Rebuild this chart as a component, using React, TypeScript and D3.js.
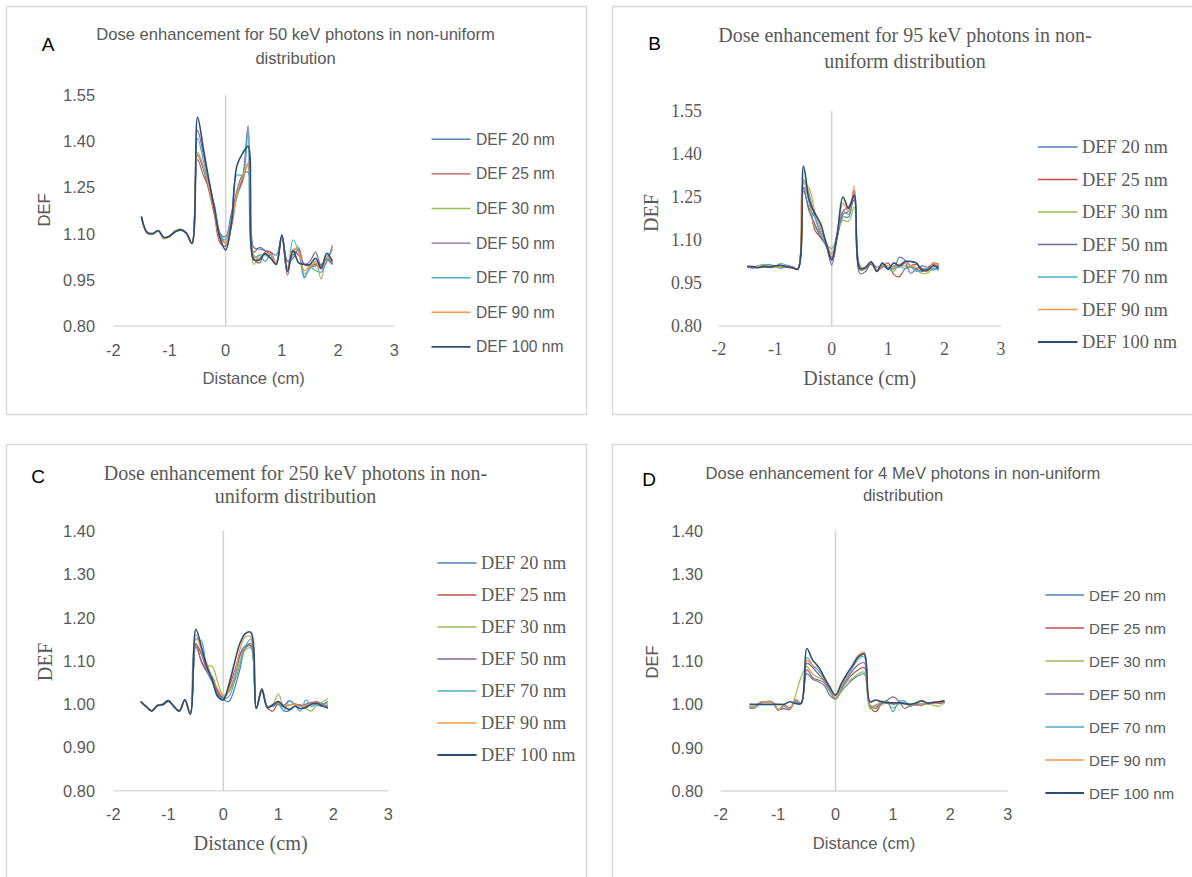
import React, { useEffect, useRef } from 'react';
import * as d3 from 'd3';

const WIDTH = 1192;
const HEIGHT = 877;

// Distance (cm) sample points shared by every panel
const DISTANCE = [
  -1.5, -1.4, -1.3, -1.2, -1.1, -1.0, -0.9, -0.8, -0.7, -0.6, -0.5, -0.4, -0.3, -0.2, -0.1, 0.0, 0.1,
  0.2, 0.3, 0.4, 0.5, 0.6, 0.7, 0.8, 0.9, 1.0, 1.1, 1.2, 1.3, 1.4, 1.5, 1.6, 1.7, 1.8, 1.9,
];

const SERIES_NAMES = ['DEF 20 nm', 'DEF 25 nm', 'DEF 30 nm', 'DEF 50 nm', 'DEF 70 nm', 'DEF 90 nm', 'DEF 100 nm'];

const COLORS = [
  '#4f81bd', // 20 nm
  '#c0504d', // 25 nm
  '#9bbb59', // 30 nm
  '#8064a2', // 50 nm
  '#4bacc6', // 70 nm
  '#f79646', // 90 nm
  '#2c4d75', // 100 nm
];

const X_TICKS = [-2, -1, 0, 1, 2, 3];
const Y_TICKS_AB = [0.8, 0.95, 1.1, 1.25, 1.4, 1.55];
const Y_TICKS_CD = [0.8, 0.9, 1.0, 1.1, 1.2, 1.3, 1.4];

// A - 50 keV
const A_20 = [1.155, 1.102, 1.098, 1.108, 1.085, 1.090, 1.108, 1.112, 1.100, 1.070, 1.340, 1.290, 1.250, 1.190, 1.100, 1.070, 1.140, 1.240, 1.290, 1.300, 1.055, 1.050, 1.045, 1.040, 1.030, 1.090, 1.010, 1.030, 1.050, 0.960, 0.990, 0.995, 1.000, 1.015, 1.000];
const A_25 = [1.155, 1.103, 1.100, 1.110, 1.086, 1.090, 1.106, 1.112, 1.100, 1.068, 1.355, 1.310, 1.240, 1.160, 1.070, 1.060, 1.120, 1.220, 1.270, 1.330, 1.020, 1.005, 1.040, 1.040, 1.000, 1.090, 0.965, 1.040, 1.030, 1.000, 0.995, 1.000, 0.985, 1.010, 1.062];
const A_30 = [1.155, 1.100, 1.097, 1.108, 1.083, 1.092, 1.110, 1.115, 1.102, 1.067, 1.365, 1.320, 1.260, 1.180, 1.090, 1.070, 1.140, 1.220, 1.280, 1.320, 1.000, 1.030, 1.030, 1.020, 1.005, 1.095, 0.980, 1.040, 1.055, 0.970, 0.985, 1.010, 0.952, 1.030, 1.005];
const A_50 = [1.155, 1.104, 1.099, 1.109, 1.087, 1.091, 1.107, 1.114, 1.103, 1.068, 1.435, 1.360, 1.270, 1.190, 1.100, 1.090, 1.165, 1.230, 1.280, 1.450, 1.040, 1.055, 1.045, 1.030, 1.005, 1.090, 1.010, 1.020, 1.050, 1.000, 1.010, 1.040, 0.995, 1.020, 1.000];
const A_70 = [1.155, 1.102, 1.098, 1.109, 1.086, 1.091, 1.108, 1.112, 1.101, 1.069, 1.410, 1.340, 1.260, 1.190, 1.095, 1.080, 1.150, 1.290, 1.290, 1.436, 1.020, 1.030, 1.010, 1.030, 1.000, 1.095, 0.990, 1.080, 1.040, 0.955, 0.990, 0.980, 0.975, 1.010, 1.050];
const A_90 = [1.155, 1.103, 1.099, 1.110, 1.085, 1.091, 1.107, 1.113, 1.101, 1.068, 1.360, 1.320, 1.250, 1.170, 1.085, 1.070, 1.130, 1.230, 1.285, 1.325, 1.030, 1.020, 1.035, 1.035, 1.005, 1.090, 0.985, 1.050, 1.040, 0.980, 0.995, 1.005, 0.990, 1.025, 1.010];
const A_100 = [1.155, 1.105, 1.100, 1.110, 1.088, 1.092, 1.105, 1.112, 1.102, 1.068, 1.478, 1.380, 1.275, 1.180, 1.085, 1.047, 1.130, 1.320, 1.360, 1.383, 1.015, 1.015, 1.035, 1.020, 1.000, 1.095, 0.978, 1.045, 1.005, 1.000, 1.000, 1.020, 0.988, 1.036, 1.010];

// B - 95 keV
const B_20 = [1.005, 1.003, 1.005, 1.008, 1.010, 1.006, 1.002, 1.008, 1.004, 1.000, 1.270, 1.210, 1.180, 1.120, 1.080, 1.040, 1.110, 1.180, 1.180, 1.270, 1.010, 1.000, 1.020, 0.995, 1.010, 1.005, 1.000, 1.040, 1.030, 1.010, 1.000, 0.990, 1.000, 0.995, 1.010];
const B_25 = [1.006, 1.004, 1.008, 1.005, 1.010, 1.008, 1.006, 1.004, 1.002, 0.999, 1.284, 1.240, 1.135, 1.110, 1.085, 1.035, 1.115, 1.190, 1.200, 1.240, 0.995, 1.000, 1.015, 0.995, 1.005, 1.020, 0.980, 0.972, 1.000, 1.010, 1.015, 1.000, 1.000, 1.020, 1.015];
const B_30 = [1.007, 1.006, 1.010, 1.015, 1.012, 1.008, 1.004, 1.012, 1.006, 0.999, 1.300, 1.230, 1.146, 1.120, 1.085, 1.050, 1.120, 1.170, 1.165, 1.216, 0.995, 1.000, 1.025, 0.990, 1.015, 1.000, 0.990, 1.015, 1.010, 1.005, 0.995, 0.984, 0.985, 1.005, 1.010];
const B_50 = [1.005, 1.003, 1.006, 1.008, 1.004, 1.010, 1.008, 1.005, 1.003, 0.999, 1.280, 1.200, 1.157, 1.110, 1.080, 1.013, 1.110, 1.200, 1.216, 1.250, 0.983, 0.990, 1.020, 1.005, 1.010, 1.000, 1.010, 1.005, 1.020, 0.984, 1.000, 1.010, 1.005, 1.015, 1.005];
const B_70 = [1.005, 1.006, 1.010, 1.012, 1.015, 1.010, 1.018, 1.012, 1.006, 1.000, 1.310, 1.260, 1.180, 1.130, 1.090, 1.070, 1.120, 1.200, 1.190, 1.274, 1.000, 1.005, 1.020, 0.995, 1.015, 1.000, 1.000, 1.010, 1.000, 1.005, 0.990, 0.995, 1.000, 1.000, 0.995];
const B_90 = [1.006, 1.005, 1.007, 1.010, 1.006, 1.005, 1.010, 1.004, 1.006, 0.999, 1.300, 1.280, 1.200, 1.140, 1.095, 1.053, 1.125, 1.228, 1.200, 1.288, 1.005, 1.005, 1.022, 0.995, 1.010, 1.010, 1.005, 1.015, 1.020, 1.010, 1.005, 0.995, 0.990, 1.020, 1.010];
const B_100 = [1.008, 1.007, 1.003, 1.008, 1.005, 1.010, 1.012, 1.006, 1.005, 0.998, 1.358, 1.240, 1.193, 1.158, 1.090, 1.030, 1.125, 1.250, 1.210, 1.257, 1.000, 1.005, 1.024, 0.990, 1.020, 0.998, 1.020, 1.010, 1.025, 1.025, 1.020, 0.995, 0.995, 1.010, 1.000];

// C - 250 keV
const C_20 = [1.006, 0.993, 0.984, 0.996, 0.998, 1.006, 0.994, 0.984, 1.009, 0.978, 1.133, 1.100, 1.075, 1.050, 1.020, 1.010, 1.006, 1.035, 1.080, 1.130, 1.140, 0.992, 1.030, 0.995, 0.995, 1.000, 0.984, 0.985, 0.995, 0.998, 0.996, 1.002, 0.998, 0.995, 0.996];
const C_25 = [1.006, 0.994, 0.985, 0.997, 1.000, 1.009, 0.995, 0.985, 1.010, 0.977, 1.140, 1.098, 1.075, 1.063, 1.030, 1.015, 1.030, 1.060, 1.110, 1.130, 1.135, 0.992, 1.036, 0.992, 0.984, 1.002, 0.995, 0.998, 1.000, 0.996, 1.000, 1.004, 1.005, 1.000, 1.006];
const C_30 = [1.006, 0.994, 0.984, 0.997, 0.999, 1.007, 0.995, 0.984, 1.010, 0.978, 1.135, 1.120, 1.090, 1.087, 1.050, 1.020, 1.028, 1.055, 1.100, 1.125, 1.130, 0.993, 1.030, 0.995, 1.000, 1.023, 0.995, 0.998, 1.000, 0.995, 0.990, 0.984, 0.998, 1.005, 1.013];
const C_50 = [1.006, 0.994, 0.984, 0.996, 0.999, 1.008, 0.995, 0.984, 1.010, 0.978, 1.140, 1.115, 1.080, 1.058, 1.025, 1.015, 1.040, 1.075, 1.115, 1.135, 1.135, 0.990, 1.034, 0.995, 0.998, 1.003, 0.998, 1.008, 1.000, 0.998, 0.996, 1.000, 1.005, 1.000, 0.995];
const C_70 = [1.006, 0.994, 0.985, 0.997, 1.000, 1.007, 0.995, 0.985, 1.010, 0.977, 1.150, 1.146, 1.080, 1.055, 1.020, 1.012, 1.018, 1.050, 1.090, 1.133, 1.150, 0.992, 1.030, 0.995, 0.998, 1.005, 0.985, 1.008, 0.998, 0.984, 1.010, 0.995, 1.000, 1.002, 1.000];
const C_90 = [1.006, 0.994, 0.984, 0.997, 0.999, 1.008, 0.995, 0.984, 1.010, 0.978, 1.160, 1.125, 1.095, 1.060, 1.035, 1.018, 1.035, 1.065, 1.125, 1.156, 1.155, 0.991, 1.034, 0.994, 0.998, 1.003, 0.996, 0.998, 1.000, 0.995, 0.998, 1.000, 1.004, 0.998, 0.990];
const C_100 = [1.006, 0.994, 0.984, 0.997, 0.999, 1.008, 0.995, 0.984, 1.010, 0.977, 1.173, 1.133, 1.087, 1.056, 1.017, 1.010, 1.045, 1.094, 1.140, 1.163, 1.166, 0.990, 1.034, 0.992, 0.998, 1.006, 0.994, 0.988, 0.995, 0.990, 0.992, 1.000, 1.002, 0.996, 0.991];

// D - 4 MeV
const D_20 = [0.991, 0.992, 1.004, 1.006, 1.005, 0.988, 0.998, 0.992, 1.005, 1.002, 1.071, 1.058, 1.052, 1.044, 1.021, 1.012, 1.030, 1.045, 1.058, 1.066, 1.070, 0.998, 0.990, 1.002, 1.005, 1.000, 1.003, 1.002, 0.998, 1.000, 0.998, 1.002, 1.005, 1.003, 1.006];
const D_25 = [0.995, 0.995, 1.005, 1.006, 1.006, 0.987, 0.996, 0.989, 1.008, 1.003, 1.080, 1.062, 1.056, 1.050, 1.030, 1.014, 1.035, 1.055, 1.070, 1.080, 1.085, 0.995, 0.983, 1.000, 1.003, 1.004, 1.002, 1.003, 1.000, 0.998, 1.000, 1.003, 1.004, 1.002, 1.005];
const D_30 = [0.995, 0.996, 1.006, 1.005, 1.005, 0.986, 0.997, 0.989, 1.020, 1.063, 1.087, 1.070, 1.062, 1.055, 1.032, 1.012, 1.033, 1.052, 1.060, 1.071, 1.074, 0.990, 0.992, 1.000, 1.002, 0.992, 1.000, 1.004, 1.000, 0.999, 1.002, 1.000, 0.998, 0.996, 1.004];
const D_50 = [0.994, 0.994, 1.005, 1.006, 1.004, 0.988, 0.990, 0.988, 1.008, 1.002, 1.095, 1.085, 1.070, 1.055, 1.035, 1.013, 1.038, 1.060, 1.078, 1.092, 1.096, 0.998, 0.995, 1.002, 1.010, 1.017, 1.008, 0.991, 0.996, 1.000, 0.998, 1.003, 1.004, 1.006, 1.004];
const D_70 = [0.992, 0.993, 1.005, 1.007, 1.006, 0.987, 0.995, 0.990, 1.006, 1.002, 1.108, 1.090, 1.078, 1.060, 1.036, 1.013, 1.040, 1.062, 1.085, 1.105, 1.110, 0.996, 0.998, 1.004, 1.008, 0.983, 1.006, 1.008, 0.995, 1.002, 1.000, 1.004, 1.003, 1.005, 1.006];
const D_90 = [0.995, 0.994, 1.006, 1.006, 1.005, 0.988, 0.997, 0.990, 1.012, 1.004, 1.102, 1.088, 1.085, 1.060, 1.038, 1.014, 1.042, 1.068, 1.093, 1.114, 1.120, 0.998, 0.995, 1.008, 1.004, 1.002, 1.004, 1.000, 0.998, 1.002, 1.000, 1.003, 1.002, 1.004, 1.006];
const D_100 = [1.000, 1.000, 1.000, 1.000, 1.000, 1.000, 1.000, 1.006, 1.002, 1.002, 1.129, 1.102, 1.087, 1.063, 1.040, 1.021, 1.048, 1.071, 1.090, 1.110, 1.116, 1.006, 1.010, 1.006, 1.004, 1.003, 1.004, 1.002, 1.000, 1.003, 1.008, 1.003, 1.004, 1.006, 1.008];

const SANS = '"Liberation Sans", Arial, sans-serif';
const SERIF = '"Liberation Serif", "Times New Roman", serif';
const TEXT_GREY = '#595959';

interface Fonts {
  family: string;
  size: number;
}

interface PanelSpec {
  letter: string;
  letterPos: [number, number];
  title: string[];
  titleX: number;
  titleY: number[];
  titleFont: Fonts;
  box: [number, number, number, number];
  xRange: [number, number];
  yRange: [number, number]; // [bottom, top] in pixels
  yTicks: number[];
  tickFont: Fonts;
  yTickX: number;
  xTickY: number;
  labelFont: Fonts;
  defPos: [number, number];
  distPos: [number, number];
  legendFont: Fonts;
  legendLine: [number, number];
  legendTextX: number;
  legendY0: number;
  legendStep: number;
  series: number[][];
}

const PANELS: PanelSpec[] = [
  {
    letter: 'A',
    letterPos: [48, 44],
    title: ['Dose enhancement for 50 keV photons in non-uniform', 'distribution'],
    titleX: 295.5,
    titleY: [34, 58],
    titleFont: { family: SANS, size: 16.6 },
    box: [6, 6, 580, 408],
    xRange: [113.3, 394.2],
    yRange: [326, 95],
    yTicks: Y_TICKS_AB,
    tickFont: { family: SANS, size: 16.4 },
    yTickX: 95,
    xTickY: 350,
    labelFont: { family: SANS, size: 16.6 },
    defPos: [44, 210],
    distPos: [253.7, 378],
    legendFont: { family: SANS, size: 15.6 },
    legendLine: [431.5, 470.5],
    legendTextX: 476,
    legendY0: 139.3,
    legendStep: 34.6,
    series: [A_20, A_25, A_30, A_50, A_70, A_90, A_100],
  },
  {
    letter: 'B',
    letterPos: [654.7, 43],
    title: ['Dose enhancement for 95 keV photons in non-', 'uniform distribution'],
    titleX: 905,
    titleY: [35, 61],
    titleFont: { family: SERIF, size: 20 },
    box: [612, 6, 600, 408],
    xRange: [718.9, 1000.9],
    yRange: [326, 111],
    yTicks: Y_TICKS_AB,
    tickFont: { family: SERIF, size: 17.8 },
    yTickX: 702,
    xTickY: 349,
    labelFont: { family: SERIF, size: 20 },
    defPos: [651, 213],
    distPos: [859.7, 378],
    legendFont: { family: SERIF, size: 18.4 },
    legendLine: [1038, 1077.5],
    legendTextX: 1082,
    legendY0: 147,
    legendStep: 32.5,
    series: [B_20, B_25, B_30, B_50, B_70, B_90, B_100],
  },
  {
    letter: 'C',
    letterPos: [38, 476],
    title: ['Dose enhancement for 250 keV photons in non-', 'uniform distribution'],
    titleX: 295.5,
    titleY: [473, 496],
    titleFont: { family: SERIF, size: 20 },
    box: [6, 444, 580, 460],
    xRange: [113.3, 388.4],
    yRange: [790.7, 531],
    yTicks: Y_TICKS_CD,
    tickFont: { family: SANS, size: 16.4 },
    yTickX: 95,
    xTickY: 814,
    labelFont: { family: SERIF, size: 20.3 },
    defPos: [45, 662],
    distPos: [250.7, 843],
    legendFont: { family: SERIF, size: 18.3 },
    legendLine: [437.4, 476.5],
    legendTextX: 481,
    legendY0: 563,
    legendStep: 32,
    series: [C_20, C_25, C_30, C_50, C_70, C_90, C_100],
  },
  {
    letter: 'D',
    letterPos: [649, 479],
    title: ['Dose enhancement for 4 MeV photons in non-uniform', 'distribution'],
    titleX: 903,
    titleY: [473, 495],
    titleFont: { family: SANS, size: 16.6 },
    box: [612, 444, 600, 460],
    xRange: [720.8, 1007.7],
    yRange: [791, 531],
    yTicks: Y_TICKS_CD,
    tickFont: { family: SANS, size: 16.2 },
    yTickX: 703,
    xTickY: 814,
    labelFont: { family: SANS, size: 16.6 },
    defPos: [652, 662],
    distPos: [864, 843],
    legendFont: { family: SANS, size: 15.2 },
    legendLine: [1045.4, 1084],
    legendTextX: 1089,
    legendY0: 595,
    legendStep: 33,
    series: [D_20, D_25, D_30, D_50, D_70, D_90, D_100],
  },
];

const drawPanel = (svg: d3.Selection<SVGSVGElement, unknown, null, undefined>, p: PanelSpec) => {
  const g = svg.append('g');

  // outer frame
  g.append('rect')
    .attr('x', p.box[0] + 0.5)
    .attr('y', p.box[1] + 0.5)
    .attr('width', p.box[2])
    .attr('height', p.box[3])
    .attr('fill', '#fff')
    .attr('stroke', '#d9d9d9')
    .attr('stroke-width', 1.5);

  const xScale = d3.scaleLinear().domain([X_TICKS[0], X_TICKS[X_TICKS.length - 1]]).range(p.xRange);
  const yScale = d3.scaleLinear()
    .domain([p.yTicks[0], p.yTicks[p.yTicks.length - 1]])
    .range(p.yRange);

  // horizontal axis line at the bottom
  g.append('line')
    .attr('x1', p.xRange[0])
    .attr('x2', p.xRange[1])
    .attr('y1', p.yRange[0])
    .attr('y2', p.yRange[0])
    .attr('stroke', '#d9d9d9')
    .attr('stroke-width', 1.5);

  // vertical axis line through zero
  g.append('line')
    .attr('x1', xScale(0))
    .attr('x2', xScale(0))
    .attr('y1', p.yRange[0])
    .attr('y2', p.yRange[1])
    .attr('stroke', '#d0d0d0')
    .attr('stroke-width', 1.5);

  const fmt = d3.format('.2f');

  g.append('g')
    .selectAll('text')
    .data(p.yTicks)
    .enter()
    .append('text')
    .attr('x', p.yTickX)
    .attr('y', d => yScale(d))
    .attr('text-anchor', 'end')
    .attr('dominant-baseline', 'central')
    .attr('font-family', p.tickFont.family)
    .attr('font-size', p.tickFont.size)
    .attr('fill', TEXT_GREY)
    .text(d => fmt(d));

  g.append('g')
    .selectAll('text')
    .data(X_TICKS)
    .enter()
    .append('text')
    .attr('x', d => xScale(d))
    .attr('y', p.xTickY)
    .attr('text-anchor', 'middle')
    .attr('dominant-baseline', 'central')
    .attr('font-family', p.tickFont.family)
    .attr('font-size', p.tickFont.size)
    .attr('fill', TEXT_GREY)
    .text(d => String(d));

  // series lines, smoothed like the spreadsheet
  const line = d3.line<number>()
    .x((_, i) => xScale(DISTANCE[i]))
    .y(d => yScale(d))
    .curve(d3.curveCatmullRom.alpha(0.5));

  p.series.forEach((values, i) => {
    g.append('path')
      .datum(values)
      .attr('fill', 'none')
      .attr('stroke', COLORS[i])
      .attr('stroke-width', i === 6 ? 1.6 : 1.2)
      .attr('stroke-linejoin', 'round')
      .attr('d', line);
  });

  // titles and labels
  p.title.forEach((t, i) => {
    g.append('text')
      .attr('x', p.titleX)
      .attr('y', p.titleY[i])
      .attr('text-anchor', 'middle')
      .attr('dominant-baseline', 'central')
      .attr('font-family', p.titleFont.family)
      .attr('font-size', p.titleFont.size)
      .attr('fill', TEXT_GREY)
      .text(t);
  });

  g.append('text')
    .attr('x', p.letterPos[0])
    .attr('y', p.letterPos[1])
    .attr('text-anchor', 'middle')
    .attr('dominant-baseline', 'central')
    .attr('font-family', SANS)
    .attr('font-size', 19)
    .attr('fill', '#000')
    .text(p.letter);

  g.append('text')
    .attr('transform', `translate(${p.defPos[0]}, ${p.defPos[1]}) rotate(-90)`)
    .attr('text-anchor', 'middle')
    .attr('dominant-baseline', 'central')
    .attr('font-family', p.labelFont.family)
    .attr('font-size', p.labelFont.size)
    .attr('fill', TEXT_GREY)
    .text('DEF');

  g.append('text')
    .attr('x', p.distPos[0])
    .attr('y', p.distPos[1])
    .attr('text-anchor', 'middle')
    .attr('dominant-baseline', 'central')
    .attr('font-family', p.labelFont.family)
    .attr('font-size', p.labelFont.size)
    .attr('fill', TEXT_GREY)
    .text('Distance (cm)');

  // legend
  const legend = g.append('g');
  SERIES_NAMES.forEach((name, i) => {
    const y = p.legendY0 + i * p.legendStep;
    legend.append('line')
      .attr('x1', p.legendLine[0])
      .attr('x2', p.legendLine[1])
      .attr('y1', y)
      .attr('y2', y)
      .attr('stroke', COLORS[i])
      .attr('stroke-width', i === 6 ? 1.8 : 1.4);
    legend.append('text')
      .attr('x', p.legendTextX)
      .attr('y', y)
      .attr('dominant-baseline', 'central')
      .attr('font-family', p.legendFont.family)
      .attr('font-size', p.legendFont.size)
      .attr('fill', TEXT_GREY)
      .text(name);
  });
};

const App: React.FC = () => {
  const svgRef = useRef<SVGSVGElement>(null);

  useEffect(() => {
    if (!svgRef.current) return;
    const svg = d3.select(svgRef.current);
    svg.selectAll('*').remove();

    svg.append('rect').attr('width', WIDTH).attr('height', HEIGHT).attr('fill', '#fff');
    PANELS.forEach(p => drawPanel(svg, p));
  }, []);

  return (
    <svg
      ref={svgRef}
      width={WIDTH}
      height={HEIGHT}
      style={{ position: 'absolute', left: 0, top: 0, display: 'block' }}
    />
  );
};

export default App;
